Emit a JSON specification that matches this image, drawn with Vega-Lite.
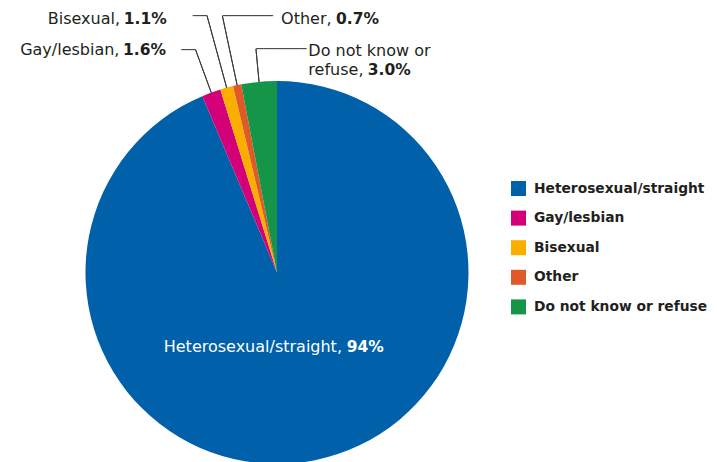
{
  "$schema": "https://vega.github.io/schema/vega-lite/v6.json",
  "width": 554,
  "height": 545,
  "padding": 0,
  "background": "white",
  "data": {
    "values": [
      {"category": "Heterosexual/straight", "percent": 94, "ord": 1},
      {"category": "Gay/lesbian", "percent": 1.6, "ord": 2},
      {"category": "Bisexual", "percent": 1.1, "ord": 3},
      {"category": "Other", "percent": 0.7, "ord": 4},
      {"category": "Do not know or refuse", "percent": 3.0, "ord": 5}
    ]
  },
  "encoding": {
    "theta": {"field": "percent", "type": "quantitative", "stack": true},
    "order": {"field": "ord", "type": "quantitative"},
    "detail": {"field": "category", "type": "nominal"}
  },
  "layer": [
    {
      "mark": {"type": "arc", "radius": 191.5},
      "encoding": {
        "color": {
          "field": "category",
          "type": "nominal",
          "sort": ["Heterosexual/straight", "Gay/lesbian", "Bisexual", "Other", "Do not know or refuse"],
          "scale": {
            "domain": ["Heterosexual/straight", "Gay/lesbian", "Bisexual", "Other", "Do not know or refuse"],
            "range": ["#0060a9", "#d4007a", "#f9ae00", "#e05a28", "#149547"]
          },
          "legend": {"title": null}
        }
      }
    },
    {
      "mark": {"type": "arc", "radius": 236.9, "radius2": 191.5, "padAngle": 2, "filled": false, "stroke": "#3a3a3a", "strokeWidth": 1},
      "encoding": {"strokeOpacity": {"condition": {"test": "datum.category === 'Gay/lesbian'", "value": 1}, "value": 0}}
    },
    {
      "mark": {"type": "arc", "radius": 265.9, "radius2": 191.5, "padAngle": 2, "filled": false, "stroke": "#3a3a3a", "strokeWidth": 1},
      "encoding": {"strokeOpacity": {"condition": {"test": "datum.category === 'Bisexual'", "value": 1}, "value": 0}}
    },
    {
      "mark": {"type": "arc", "radius": 262.2, "radius2": 191.5, "padAngle": 2, "filled": false, "stroke": "#3a3a3a", "strokeWidth": 1},
      "encoding": {"strokeOpacity": {"condition": {"test": "datum.category === 'Other'", "value": 1}, "value": 0}}
    },
    {
      "mark": {"type": "arc", "radius": 224.5, "radius2": 191.5, "padAngle": 2, "filled": false, "stroke": "#3a3a3a", "strokeWidth": 1},
      "encoding": {"strokeOpacity": {"condition": {"test": "datum.category === 'Do not know or refuse'", "value": 1}, "value": 0}}
    },
    {
      "mark": {"type": "text", "radius": 236.9, "align": "right", "baseline": "middle", "font": "DejaVu Sans Mono", "fontSize": 12, "color": "#3a3a3a"},
      "encoding": {"text": {"condition": {"test": "datum.category === 'Gay/lesbian'", "value": "──"}, "value": ""}}
    },
    {
      "mark": {"type": "text", "radius": 265.9, "align": "right", "baseline": "middle", "font": "DejaVu Sans Mono", "fontSize": 12, "color": "#3a3a3a"},
      "encoding": {"text": {"condition": {"test": "datum.category === 'Bisexual'", "value": "──"}, "value": ""}}
    },
    {
      "mark": {"type": "text", "radius": 262.2, "align": "left", "baseline": "middle", "font": "DejaVu Sans Mono", "fontSize": 12, "color": "#3a3a3a"},
      "encoding": {"text": {"condition": {"test": "datum.category === 'Other'", "value": "───────"}, "value": ""}}
    },
    {
      "mark": {"type": "text", "radius": 224.5, "align": "left", "baseline": "middle", "font": "DejaVu Sans Mono", "fontSize": 12, "color": "#3a3a3a"},
      "encoding": {"text": {"condition": {"test": "datum.category === 'Do not know or refuse'", "value": "───────"}, "value": ""}}
    },
    {
      "mark": {"type": "text", "radius": 236.9, "align": "right", "baseline": "middle", "dx": -76.2, "font": "DejaVu Sans", "fontSize": 16, "color": "#231f20"},
      "encoding": {"text": {"condition": {"test": "datum.category === 'Gay/lesbian'", "value": "Gay/lesbian,"}, "value": ""}}
    },
    {
      "mark": {"type": "text", "radius": 236.9, "align": "right", "baseline": "middle", "dx": -29.6, "font": "DejaVu Sans", "fontSize": 15.5, "fontWeight": "bold", "color": "#231f20"},
      "encoding": {"text": {"condition": {"test": "datum.category === 'Gay/lesbian'", "value": "1.6%"}, "value": ""}}
    },
    {
      "mark": {"type": "text", "radius": 265.9, "align": "right", "baseline": "middle", "dx": -87.1, "dy": 3, "font": "DejaVu Sans", "fontSize": 16, "color": "#231f20"},
      "encoding": {"text": {"condition": {"test": "datum.category === 'Bisexual'", "value": "Bisexual,"}, "value": ""}}
    },
    {
      "mark": {"type": "text", "radius": 265.9, "align": "right", "baseline": "middle", "dx": -40.4, "dy": 3, "font": "DejaVu Sans", "fontSize": 15.5, "fontWeight": "bold", "color": "#231f20"},
      "encoding": {"text": {"condition": {"test": "datum.category === 'Bisexual'", "value": "1.1%"}, "value": ""}}
    },
    {
      "mark": {"type": "text", "radius": 262.2, "align": "left", "baseline": "middle", "dx": 58.6, "dy": 2.7, "font": "DejaVu Sans", "fontSize": 16, "color": "#231f20"},
      "encoding": {"text": {"condition": {"test": "datum.category === 'Other'", "value": "Other,"}, "value": ""}}
    },
    {
      "mark": {"type": "text", "radius": 262.2, "align": "left", "baseline": "middle", "dx": 113.6, "dy": 2.7, "font": "DejaVu Sans", "fontSize": 15.5, "fontWeight": "bold", "color": "#231f20"},
      "encoding": {"text": {"condition": {"test": "datum.category === 'Other'", "value": "0.7%"}, "value": ""}}
    },
    {
      "mark": {"type": "text", "radius": 224.5, "align": "left", "baseline": "middle", "dx": 52.4, "dy": 2.3, "font": "DejaVu Sans", "fontSize": 16, "color": "#231f20"},
      "encoding": {"text": {"condition": {"test": "datum.category === 'Do not know or refuse'", "value": "Do not know or"}, "value": ""}}
    },
    {
      "mark": {"type": "text", "radius": 224.5, "align": "left", "baseline": "middle", "dx": 52.4, "dy": 21.3, "font": "DejaVu Sans", "fontSize": 16, "color": "#231f20"},
      "encoding": {"text": {"condition": {"test": "datum.category === 'Do not know or refuse'", "value": "refuse,"}, "value": ""}}
    },
    {
      "mark": {"type": "text", "radius": 224.5, "align": "left", "baseline": "middle", "dx": 111.8, "dy": 21.3, "font": "DejaVu Sans", "fontSize": 15.5, "fontWeight": "bold", "color": "#231f20"},
      "encoding": {"text": {"condition": {"test": "datum.category === 'Do not know or refuse'", "value": "3.0%"}, "value": ""}}
    },
    {
      "mark": {"type": "text", "radius": 75.8, "align": "right", "baseline": "middle", "dx": 49.9, "font": "DejaVu Sans", "fontSize": 16, "color": "white"},
      "encoding": {"text": {"condition": {"test": "datum.category === 'Heterosexual/straight'", "value": "Heterosexual/straight,"}, "value": ""}}
    },
    {
      "mark": {"type": "text", "radius": 75.8, "align": "left", "baseline": "middle", "dx": 54.6, "font": "DejaVu Sans", "fontSize": 15.5, "fontWeight": "bold", "color": "white"},
      "encoding": {"text": {"condition": {"test": "datum.category === 'Heterosexual/straight'", "value": "94%"}, "value": ""}}
    }
  ],
  "config": {
    "view": {"stroke": null},
    "legend": {
      "orient": "none",
      "legendX": 511,
      "legendY": 181,
      "padding": 0,
      "symbolType": "square",
      "symbolSize": 225,
      "symbolStrokeWidth": 0,
      "labelFont": "DejaVu Sans",
      "labelFontSize": 13.8,
      "labelFontWeight": "bold",
      "labelColor": "#231f20",
      "labelOffset": 8,
      "labelLimit": 300,
      "rowPadding": 14.6
    }
  }
}
